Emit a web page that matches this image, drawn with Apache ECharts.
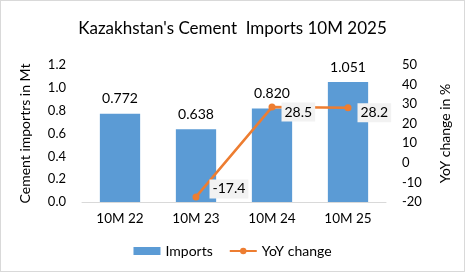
<!DOCTYPE html>
<html>
<head>
<meta charset="utf-8">
<script src="https://cdn.jsdelivr.net/npm/echarts@6/dist/echarts.min.js"></script>
<style>
html,body{margin:0;padding:0;background:#fff;}
#c{width:463px;height:270px;border:1px solid #D9D9D9;}
</style>
</head>
<body>
<div id="c"></div>
<script>
const categories = ['10M 22', '10M 23', '10M 24', '10M 25'];
const imports = [0.772, 0.638, 0.820, 1.051];
const yoyChange = [null, -17.4, 28.5, 28.2];
const leftTicks = [0, 1.2, 0.2];
const rightTicks = [-20, 50, 10];

const FONT = 'Lato';
const chart = echarts.init(document.getElementById('c'));
chart.setOption({
  animation: false,
  textStyle: {fontFamily: FONT},
  title: {
    text: "Kazakhstan's Cement  Imports 10M 2025",
    left: 'center', top: 14,
    textStyle: {fontFamily: FONT, fontSize: 17, fontWeight: 'normal', color: '#000'}
  },
  legend: {
    bottom: 8, left: 'center', itemGap: 16,
    textStyle: {fontFamily: FONT, fontSize: 14, color: '#000'},
    data: [
      {name: 'Imports', icon: 'rect', itemStyle: {color: '#5B9BD5'}},
      {name: 'YoY change'}
    ],
    itemWidth: 27, itemHeight: 8
  },
  grid: {left: 81, right: 78, top: 64, bottom: 69, containLabel: false},
  xAxis: {
    type: 'category', data: categories,
    axisLine: {lineStyle: {color: '#D9D9D9'}},
    axisTick: {show: false},
    axisLabel: {fontFamily: FONT, fontSize: 13.5, color: '#000', margin: 10}
  },
  yAxis: [
    {
      type: 'value', min: leftTicks[0], max: leftTicks[1], interval: leftTicks[2],
      name: 'Cement importrs in Mt', nameLocation: 'middle', nameGap: 50,
      nameTextStyle: {fontFamily: FONT, fontSize: 14, color: '#000'},
      splitLine: {show: false}, axisLine: {show: false}, axisTick: {show: false},
      axisLabel: {fontFamily: FONT, fontSize: 13, color: '#000', margin: 16,
        formatter: v => v.toFixed(1)}
    },
    {
      type: 'value', min: rightTicks[0], max: rightTicks[1], interval: rightTicks[2],
      name: 'YoY change in %', nameLocation: 'middle', nameGap: 52, nameRotate: 90,
      nameTextStyle: {fontFamily: FONT, fontSize: 14, color: '#000'},
      splitLine: {show: false}, axisLine: {show: false}, axisTick: {show: false},
      axisLabel: {fontFamily: FONT, fontSize: 13, color: '#000', margin: 16}
    }
  ],
  series: [
    {
      name: 'Imports', type: 'bar', data: imports, barWidth: '53%',
      itemStyle: {color: '#5B9BD5'},
      label: {show: true, position: 'top', distance: 8, fontFamily: FONT, fontSize: 14, color: '#000',
        formatter: p => p.value.toFixed(3)}
    },
    {
      name: 'YoY change', type: 'line', yAxisIndex: 1,
      data: yoyChange.map((v, i) => i === 1 ? {value: v, label: {offset: [4, -8]}} : v),
      connectNulls: false,
      symbol: 'circle', symbolSize: 7,
      lineStyle: {color: '#ED7D31', width: 2.5},
      itemStyle: {color: '#ED7D31'},
      label: {show: true, position: 'right', distance: 6, offset: [0, 5],
        fontFamily: FONT, fontSize: 14, color: '#000',
        backgroundColor: '#F2F2F2', padding: [3, 3, 2, 3],
        formatter: p => p.value.toFixed(1)}
    }
  ]
});
</script>
</body>
</html>
